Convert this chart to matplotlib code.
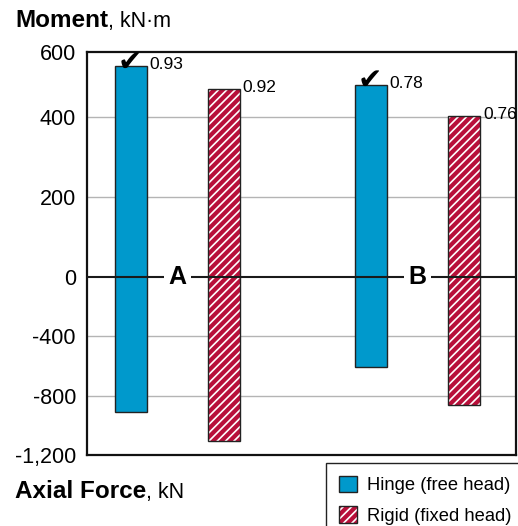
import matplotlib.pyplot as plt
from matplotlib.patches import Patch
import numpy as np

# Data
groups = ['A', 'B']
series = ['Hinge (free head)', 'Rigid (fixed head)']
hinge_moment = [526, 479]      # kN·m
rigid_moment = [470, 402]
hinge_axial = [-912, -610]     # kN
rigid_axial = [-1107, -867]
hinge_ratio = ['0.93', '0.78']
rigid_ratio = ['0.92', '0.76']
ytick_values = [-1200, -800, -400, 0, 200, 400, 562]
ytick_labels = ['-1,200', '-800', '-400', '0', '200', '400', '600']

blue = '#0099CC'
red = '#B8103A'

plt.rcParams['font.family'] = ['Liberation Sans', 'DejaVu Sans']
plt.rcParams['hatch.color'] = 'white'
plt.rcParams['hatch.linewidth'] = 1.2

# moment (upper half) and axial force (lower half) share one axis, different scales
neg_k = 0.372
def fwd(v):
    v = np.asarray(v, dtype=float)
    return np.where(v >= 0, v, v * neg_k)
def inv(y):
    y = np.asarray(y, dtype=float)
    return np.where(y >= 0, y, y / neg_k)

fig = plt.figure(figsize=(5.18, 5.26), dpi=100)
ax = fig.add_axes([87 / 518, (526 - 455) / 526, (516 - 87) / 518, (455 - 52) / 526])
ax.set_yscale('function', functions=(fwd, inv))

x = np.arange(len(groups))
off = 0.194
w = 0.133

# grid lines
for v in [200, 400, -400, -800]:
    ax.axhline(v, color='#b4b4b4', lw=1, zorder=0)

# hinge bars
hx = x - off
ax.bar(hx, np.array(hinge_moment) - np.array(hinge_axial), w, bottom=hinge_axial,
       color=blue, edgecolor='#222222', linewidth=1, zorder=2)
# rigid bars: hatched fill, then outline
rx = x + off
ax.bar(rx, np.array(rigid_moment) - np.array(rigid_axial), w, bottom=rigid_axial,
       color=red, hatch='////', linewidth=0, zorder=2)
ax.bar(rx, np.array(rigid_moment) - np.array(rigid_axial), w, bottom=rigid_axial,
       facecolor='none', edgecolor='#222222', linewidth=1, zorder=3)

# zero line with group labels
ax.axhline(0, color='#1a1a1a', lw=1.5, zorder=4)
for i, g in enumerate(groups):
    ax.text(x[i], 0, g, ha='center', va='center', fontsize=18, fontweight='bold',
            bbox=dict(facecolor='white', edgecolor='none', pad=3), zorder=5)

# ratio labels and check marks
for i in range(len(groups)):
    ax.annotate(hinge_ratio[i], xy=(hx[i] + w / 2, hinge_moment[i]), xytext=(2, 1),
                textcoords='offset points', ha='left', va='center', fontsize=12.5)
    ax.annotate(rigid_ratio[i], xy=(rx[i] + w / 2, rigid_moment[i]), xytext=(2, 1),
                textcoords='offset points', ha='left', va='center', fontsize=12.5)
    ax.annotate('\u2714', xy=(hx[i], hinge_moment[i]), xytext=(-1, -3),
                textcoords='offset points', ha='center', va='baseline', fontsize=21,
                family='DejaVu Sans', zorder=6)

ax.set_xlim(-0.377, 1.41)
ax.set_ylim(-1200, 562)
ax.set_xticks([])
ax.set_yticks(ytick_values, ytick_labels)
ax.minorticks_off()
ax.tick_params(axis='y', length=0, pad=8, labelsize=15.5)
for s in ax.spines.values():
    s.set_linewidth(1.6)
    s.set_color('#111111')

# titles: bold name + regular unit on a shared baseline
fig.canvas.draw()
r = fig.canvas.get_renderer()
for name, unit, ypix in [('Moment', ', kN\u00b7m', 27), ('Axial Force', ', kN', 498)]:
    t = fig.text(15 / 518, 1 - ypix / 526, name, fontsize=17.5, fontweight='bold', va='baseline')
    bb = t.get_window_extent(r)
    fig.text(bb.x1 / fig.bbox.width, 1 - ypix / 526, unit, fontsize=15.5, va='baseline')

# legend
h1 = Patch(facecolor=blue, edgecolor='#222222', linewidth=1)
h2a = Patch(facecolor=red, hatch='////', linewidth=0)
h2b = Patch(facecolor='none', edgecolor='#222222', linewidth=1)
leg = fig.legend([h1, (h2a, h2b)], series, loc='upper left',
                 bbox_to_anchor=(326 / 518, 1 - 463 / 526), fontsize=13.2,
                 frameon=True, fancybox=False, edgecolor='#222222', framealpha=1,
                 handlelength=1.0, handleheight=1.0, handletextpad=0.55,
                 borderaxespad=0, labelspacing=0.65, borderpad=0.7)
leg.get_frame().set_linewidth(1)

plt.savefig('out.png', dpi=100)
